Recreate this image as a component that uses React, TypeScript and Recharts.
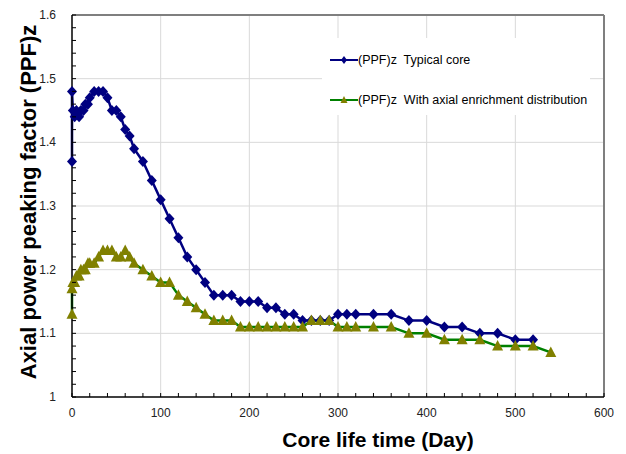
import {
  LineChart,
  Line,
  XAxis,
  YAxis,
  CartesianGrid,
  ReferenceLine,
  Legend
} from "recharts";

const days = [
  0, 0, 1, 3, 5, 8, 10, 13, 15, 18, 20, 25, 30, 35, 40, 45, 50, 55, 60, 65, 70,
  80, 90, 100, 110, 120, 130, 140, 150, 160, 170, 180, 190, 200, 210, 220, 230,
  240, 250, 260, 270, 280, 290, 300, 310, 320, 340, 360, 380, 400, 420, 440,
  460, 480, 500, 520, 540
];

// (PPF)z Typical core
const typicalCore = [
  1.37, 1.48, 1.45, 1.44, 1.45, 1.44, 1.45, 1.45, 1.46, 1.46, 1.47, 1.48, 1.48,
  1.48, 1.47, 1.45, 1.45, 1.44, 1.42, 1.41, 1.39, 1.37, 1.34, 1.31, 1.28, 1.25,
  1.22, 1.2, 1.18, 1.16, 1.16, 1.16, 1.15, 1.15, 1.15, 1.14, 1.14, 1.13, 1.13,
  1.12, 1.12, 1.12, 1.12, 1.13, 1.13, 1.13, 1.13, 1.13, 1.12, 1.12, 1.11, 1.11,
  1.1, 1.1, 1.09, 1.09, null
];

// (PPF)z With axial enrichment distribution
const axialEnrichment = [
  1.13, 1.17, 1.18, 1.18, 1.19, 1.19, 1.2, 1.2, 1.2, 1.21, 1.21, 1.21, 1.22,
  1.23, 1.23, 1.23, 1.22, 1.22, 1.23, 1.22, 1.21, 1.2, 1.19, 1.18, 1.18, 1.16,
  1.15, 1.14, 1.13, 1.12, 1.12, 1.12, 1.11, 1.11, 1.11, 1.11, 1.11, 1.11, 1.11,
  1.11, 1.12, 1.12, 1.12, 1.11, 1.11, 1.11, 1.11, 1.11, 1.1, 1.1, 1.09, 1.09,
  1.09, 1.08, 1.08, 1.08, 1.07
];

const xTickLabels = [0, 100, 200, 300, 400, 500, 600];
const yTickLabels = [1, 1.1, 1.2, 1.3, 1.4, 1.5, 1.6];

const data = days.map((day, i) => ({
  day,
  typical: typicalCore[i],
  axial: axialEnrichment[i]
}));

// minor ticks: 5 steps between major labels
const subdivide = (major: number[]) => {
  const out: number[] = [];
  for (let i = 0; i < major.length - 1; i++) {
    const step = (major[i + 1] - major[i]) / 5;
    for (let k = 0; k < 5; k++) out.push(Number((major[i] + step * k).toFixed(4)));
  }
  out.push(major[major.length - 1]);
  return out;
};
const xTicks = subdivide(xTickLabels);
const yTicks = subdivide(yTickLabels);

const FONT = "'Liberation Sans', Arial, sans-serif";
const BLUE = "#000080";
const GREEN = "#008000";
const OLIVE = "#808000";

const isMajor = (v: number, list: number[]) =>
  list.some((m) => Math.abs(m - v) < 1e-6);

const XTick = (props: any) => {
  const { x, y, payload } = props;
  const v = payload.value;
  const major = isMajor(v, xTickLabels);
  return (
    <g>
      <line x1={x} x2={x} y1={y} y2={y - 4} stroke="#000" />
      {major && (
        <text x={x} y={y + 20} textAnchor="middle" fontSize={12} fontFamily={FONT} fill="#222">
          {v}
        </text>
      )}
    </g>
  );
};

const YTick = (props: any) => {
  const { x, y, payload } = props;
  const v = payload.value;
  const major = isMajor(v, yTickLabels);
  return (
    <g>
      <line x1={x} x2={x + 4} y1={y} y2={y} stroke="#000" />
      {major && (
        <text x={x - 16} y={y + 4} textAnchor="end" fontSize={12} fontFamily={FONT} fill="#222">
          {String(Math.round(v * 10) / 10)}
        </text>
      )}
    </g>
  );
};

const Diamond = (props: any) => {
  const { cx, cy, index } = props;
  if (cx == null || cy == null) return <g key={`d${index}`} />;
  return (
    <path
      key={`d${index}`}
      d={`M${cx},${cy - 5.5} L${cx + 5},${cy} L${cx},${cy + 5.5} L${cx - 5},${cy} Z`}
      fill={BLUE}
    />
  );
};

const Triangle = (props: any) => {
  const { cx, cy, index } = props;
  if (cx == null || cy == null) return <g key={`t${index}`} />;
  return (
    <path
      key={`t${index}`}
      d={`M${cx},${cy - 6} L${cx + 5.5},${cy + 4.5} L${cx - 5.5},${cy + 4.5} Z`}
      fill={OLIVE}
    />
  );
};

const legendItems = [
  { label: "(PPF)z  Typical core", line: BLUE, marker: "diamond" },
  { label: "(PPF)z  With axial enrichment distribution", line: GREEN, marker: "triangle" }
];

const LegendBox = () => (
  <div style={{ position: "relative", width: 268, height: 77, background: "#fff", fontFamily: FONT, fontSize: 12.5, color: "#000" }}>
    {legendItems.map((item, i) => (
      <div
        key={item.label}
        style={{ position: "absolute", left: 8, top: 14 + i * 40, height: 16, display: "flex", alignItems: "center", whiteSpace: "pre" }}
      >
        <svg width={28} height={16}>
          <line x1={0} x2={28} y1={8} y2={8} stroke={item.line} strokeWidth={2} />
          {item.marker === "diamond" ? (
            <path d="M14,4 L17,8 L14,12 L11,8 Z" fill={BLUE} />
          ) : (
            <path d="M14,4 L17.5,11 L10.5,11 Z" fill={OLIVE} />
          )}
        </svg>
        <span>{item.label}</span>
      </div>
    ))}
  </div>
);

export default function App() {
  return (
    <div style={{ position: "absolute", left: 0, top: 0, width: 626, height: 454, background: "#fff" }}>
      <LineChart
        width={626}
        height={454}
        data={data}
        margin={{ top: 15, right: 22, bottom: 0, left: 0 }}
      >
        <CartesianGrid
          stroke="#d9d9d9"
          verticalValues={[100, 200, 300, 400, 500]}
          horizontalValues={[1.1, 1.2, 1.3, 1.4, 1.5]}
        />
        <XAxis
          dataKey="day"
          type="number"
          domain={[0, 600]}
          ticks={xTicks}
          interval={0}
          tickSize={0}
          tickMargin={0}
          tick={<XTick />}
          height={57}
          axisLine={{ stroke: "#000", strokeWidth: 1.5 }}
          label={{
            value: "Core life time (Day)",
            position: "insideBottom",
            offset: 7,
            dx: 40,
            fontSize: 21,
            fontWeight: "bold",
            fontFamily: FONT,
            fill: "#000"
          }}
        />
        <YAxis
          type="number"
          domain={[1, 1.6]}
          ticks={yTicks}
          interval={0}
          tickSize={0}
          tickMargin={0}
          tick={<YTick />}
          width={72}
          axisLine={{ stroke: "#000", strokeWidth: 1.5 }}
          label={{
            value: "Axial power peaking factor (PPF)z",
            angle: -90,
            position: "insideLeft",
            offset: 28,
            dy: -4,
            textAnchor: "middle",
            fontSize: 22,
            fontWeight: "bold",
            fontFamily: FONT,
            fill: "#000"
          }}
        />
        <ReferenceLine y={1.6} stroke="#7f7f7f" strokeWidth={2} />
        <ReferenceLine x={600} stroke="#7f7f7f" strokeWidth={2} />
        <Legend
          layout="horizontal"
          verticalAlign="middle"
          align="center"
          content={<LegendBox />}
          wrapperStyle={{ left: 322, top: 38, width: 268, height: 77 }}
        />
        <Line
          type="linear"
          dataKey="typical"
          stroke={BLUE}
          strokeWidth={2.5}
          dot={Diamond}
          activeDot={false}
          isAnimationActive={false}
        />
        <Line
          type="linear"
          dataKey="axial"
          stroke={GREEN}
          strokeWidth={2.5}
          dot={Triangle}
          activeDot={false}
          isAnimationActive={false}
        />
      </LineChart>
    </div>
  );
}
